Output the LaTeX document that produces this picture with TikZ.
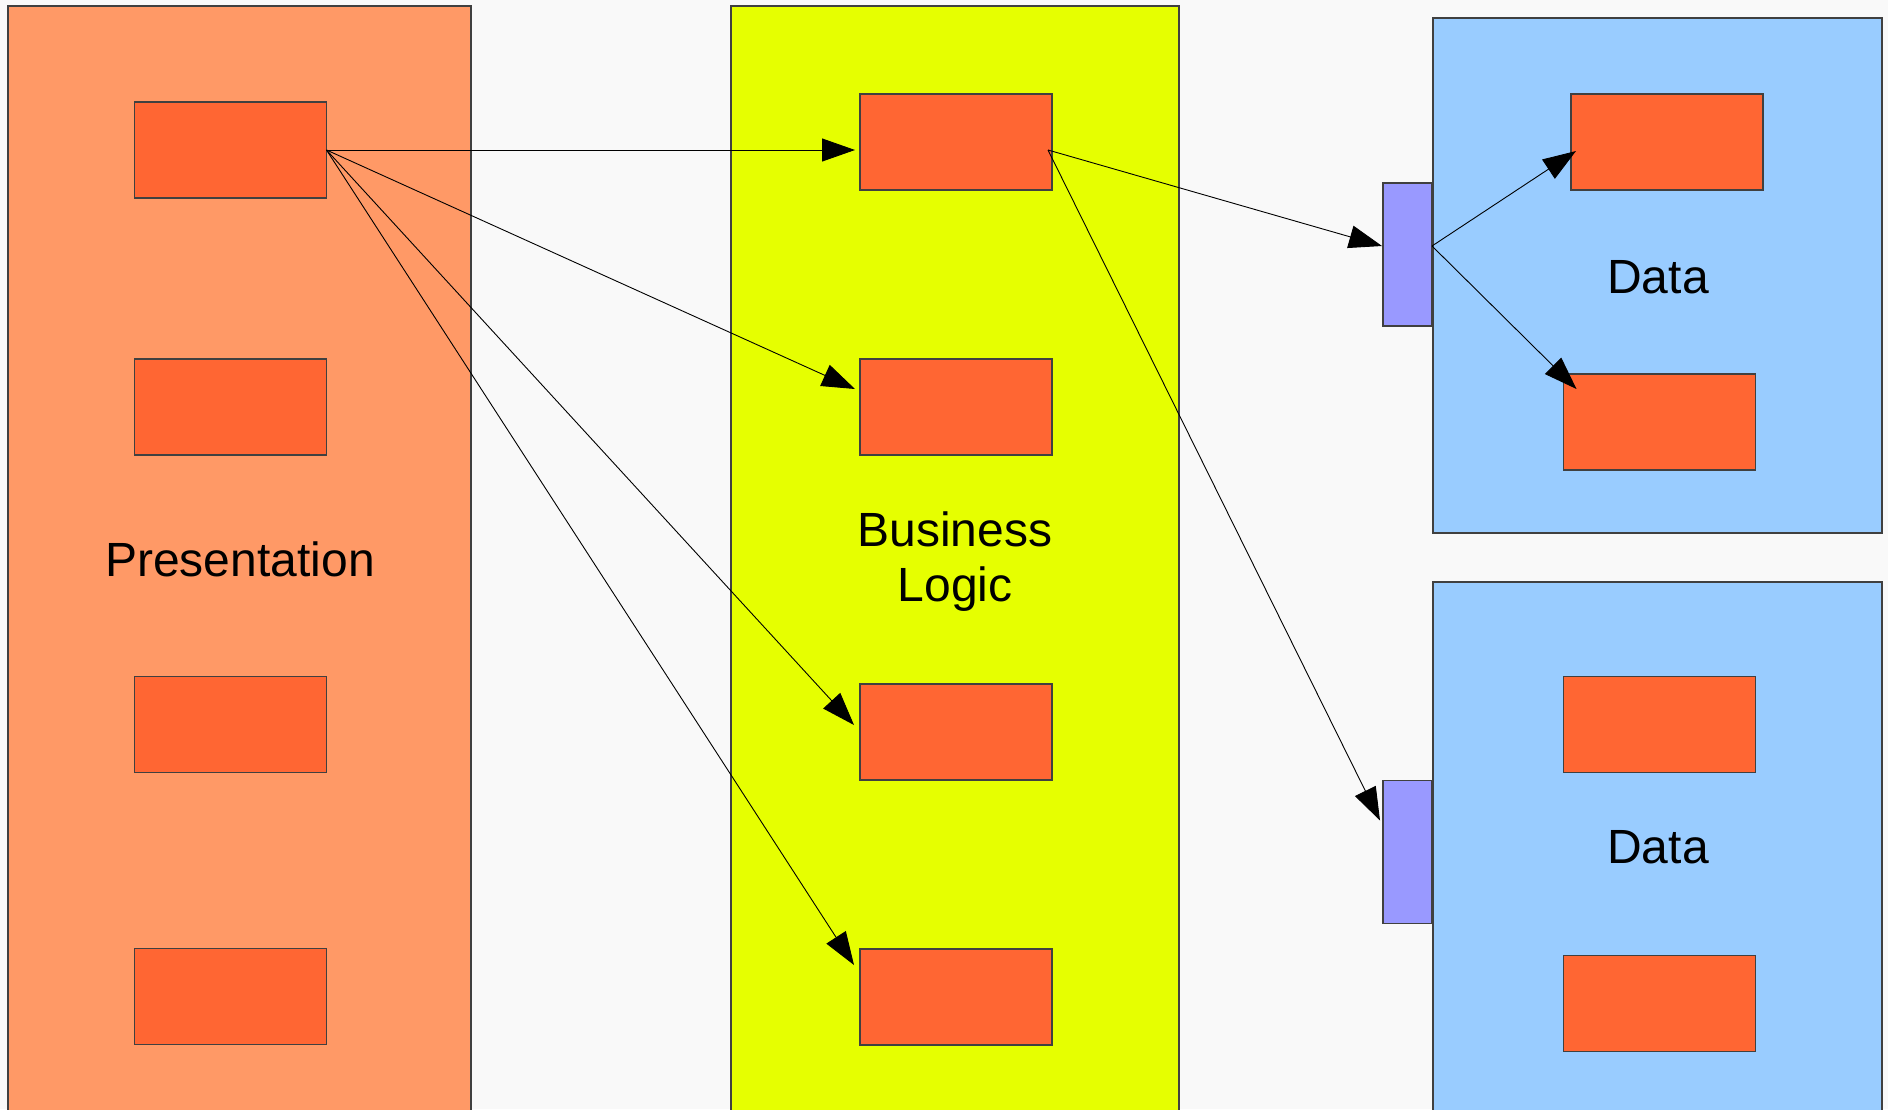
\documentclass[tikz,border=0pt]{standalone}
\usepackage{fontspec}
\setmainfont{Liberation Sans}
\usetikzlibrary{arrows.meta,calc}

\definecolor{canvas}{HTML}{F9F9F9}
\definecolor{presfill}{HTML}{FF9966}
\definecolor{logicfill}{HTML}{E6FF00}
\definecolor{datafill}{HTML}{99CCFF}
\definecolor{compfill}{HTML}{FF6633}
\definecolor{portfill}{HTML}{9999FF}
\definecolor{edge}{HTML}{404040}

\begin{document}
\begin{tikzpicture}[x=1pt,y=-1pt,
  tier/.style={draw=edge, line width=1.3pt, anchor=north west,
    inner sep=0pt, outer sep=0pt},
  comp/.style={draw=edge, fill=compfill, line width=1.1pt,
    minimum width=192pt, minimum height=96pt, inner sep=0pt, outer sep=0pt},
  port/.style={draw=edge, fill=portfill, line width=1.1pt,
    minimum width=49pt, minimum height=143pt, inner sep=0pt, outer sep=0pt},
  link/.style={-{Triangle[length=33pt,width=23pt]}, line width=0.9pt, black},
  tiername/.style={font=\fontsize{48}{55}\selectfont, align=center, inner sep=0pt}]

% canvas
\fill[canvas] (0,0) rectangle (1888,1109);
\useasboundingbox (0,0) rectangle (1888,1109);
\clip (0,0) rectangle (1888,1109);

% tiers
\node[tier, fill=presfill, minimum width=463pt, minimum height=1120pt] (pres) at (8,6) {};
\node[tier, fill=logicfill, minimum width=448pt, minimum height=1120pt] (logic) at (731,6) {};
\node[tier, fill=datafill, minimum width=449pt, minimum height=515pt] (dataA) at (1433,18) {};
\node[tier, fill=datafill, minimum width=449pt, minimum height=540pt] (dataB) at (1433,582) {};

% tier names
\node[tiername] (presname) at (240,559) {Presentation};
\node[tiername] (logicname) at (955,562) {Business\\Logic};
\node[tiername] (dataAname) at (1658,277) {Data};
\node[tiername] (dataBname) at (1658,847) {Data};

% presentation components
\node[comp] (p1) at (230.5,150) {};
\node[comp] (p2) at (230.5,407) {};
\node[comp] (p3) at (230.5,724.5) {};
\node[comp] (p4) at (230.5,996.5) {};

% business logic components
\node[comp] (b1) at (956,142) {};
\node[comp] (b2) at (956,407) {};
\node[comp] (b3) at (956,732) {};
\node[comp] (b4) at (956,997) {};

% data components
\node[comp] (d1) at (1667,142) {};
\node[comp] (d2) at (1659.5,422) {};
\node[comp] (d3) at (1659.5,724.5) {};
\node[comp] (d4) at (1659.5,1003.5) {};

% data access ports
\node[port] (portA) at (1407.5,254.5) {};
\node[port] (portB) at (1407.5,852) {};

% presentation -> business logic
\draw[link] (p1.east) -- ($(b1.north west)+(-5,56)$);
\draw[link] (p1.east) -- ($(b2.north west)+(-5,30)$);
\draw[link] (p1.east) -- ($(b3.north west)+(-6,41)$);
\draw[link] (p1.east) -- ($(b4.north west)+(-6,16)$);

% business logic -> data ports
\coordinate (bout) at ($(b1.east)+(-4,8)$);
\draw[link] (bout) -- ($(portA.west)+(-1,-8.5)$);
\draw[link] (bout) -- ($(portB.north west)+(-3,40)$);

% port -> data components
\coordinate (pout) at ($(portA.east)+(0,-8.5)$);
\draw[link] (pout) -- ($(d1.north west)+(5,57)$);
\draw[link] (pout) -- ($(d2.north west)+(13,15)$);
\end{tikzpicture}
\end{document}
